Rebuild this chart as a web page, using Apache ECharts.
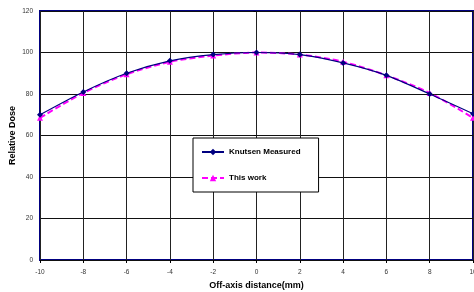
<!DOCTYPE html>
<html>
<head>
<meta charset="utf-8">
<script src="https://cdn.jsdelivr.net/npm/echarts@6/dist/echarts.min.js"></script>
<style>
html, body { margin: 0; padding: 0; background: #fff; }
#chart { width: 474px; height: 292px; }
</style>
</head>
<body>
<div id="chart"></div>
<script>
const distance = [-10, -8, -6, -4, -2, 0, 2, 4, 6, 8, 10];
const knutsen = [70, 81, 90, 96, 99, 100, 99, 95, 89, 80, 70.5];
const thisWork = [68.5, 80.5, 89.5, 95.5, 98.5, 100, 99, 95.5, 89, 80.5, 68.5];

const chartObj = echarts.init(document.getElementById("chart"));
const font = "Liberation Sans, Arial, sans-serif";
let option = {
  animation: false,
  grid: {
    left: 40, right: 1, top: 11, bottom: 32,
    outerBoundsMode: "none",
    containLabel: false,
    show: true,
    borderColor: "#000080",
    borderWidth: 2,
  },
  legend: {
    orient: "vertical",
    left: 193, top: 138,
    width: 126,
    padding: [10, 18, 10, 8],
    itemGap: 18,
    itemWidth: 22,
    itemHeight: 8,
    backgroundColor: "#fff",
    borderColor: "#000",
    borderWidth: 1,
    textStyle: { fontFamily: font, fontSize: 8, fontWeight: "bold", color: "#000" },
    data: ["Knutsen Measured", "This work"],
  },
  xAxis: {
    type: "value",
    min: -10, max: 10, interval: 2,
    name: "Off-axis distance(mm)",
    nameLocation: "middle",
    nameGap: 21,
    nameMoveOverlap: false,
    nameTextStyle: { fontFamily: font, fontSize: 9, fontWeight: "bold", color: "#000" },
    axisLine: { show: false },
    axisTick: { show: true, length: 3, lineStyle: { color: "#000" } },
    axisLabel: { fontFamily: font, fontSize: 6.5, color: "#333", margin: 9 },
    splitLine: { show: true, lineStyle: { color: "#222", width: 1 } },
  },
  yAxis: {
    type: "value",
    min: 0, max: 120, interval: 20,
    name: "Relative Dose",
    nameLocation: "middle",
    nameGap: 23,
    nameMoveOverlap: false,
    nameTextStyle: { fontFamily: font, fontSize: 9, fontWeight: "bold", color: "#000" },
    axisLine: { show: false },
    axisTick: { show: true, length: 3, lineStyle: { color: "#000" } },
    axisLabel: { fontFamily: font, fontSize: 6.5, color: "#333", margin: 7 },
    splitLine: { show: true, lineStyle: { color: "#111", width: 1 } },
  },
  series: [
    {
      name: "Knutsen Measured",
      type: "line",
      smooth: 0.3,
      data: distance.map((d, i) => [d, knutsen[i]]),
      symbol: "diamond",
      symbolSize: 6,
      itemStyle: { color: "#000080" },
      lineStyle: { color: "#000080", width: 1.2 },
      z: 3,
    },
    {
      name: "This work",
      type: "line",
      smooth: 0.3,
      data: distance.map((d, i) => [d, thisWork[i]]),
      symbol: "triangle",
      symbolSize: 6,
      itemStyle: { color: "#ff00ff" },
      lineStyle: { color: "#ff00ff", width: 2, type: [6, 3] },
      z: 2,
    },
  ],
};
chartObj.setOption(option);
</script>
</body>
</html>
